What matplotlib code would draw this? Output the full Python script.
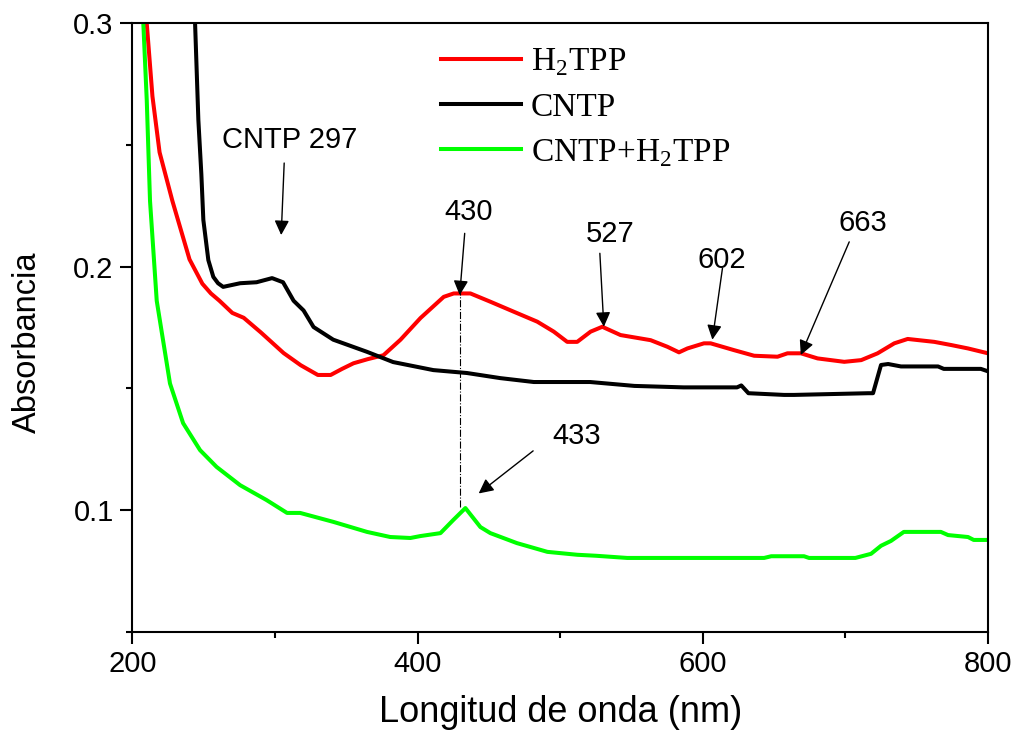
import matplotlib
matplotlib.use('Agg')
import matplotlib.pyplot as plt
from matplotlib.ticker import MultipleLocator

plt.rcParams['font.family'] = ['Liberation Sans', 'DejaVu Sans']
plt.rcParams['mathtext.fontset'] = 'custom'
plt.rcParams['mathtext.rm'] = 'Liberation Serif'

# H2TPP (red)
wl_h2tpp = [209, 210, 214, 219, 228, 240, 249, 255, 261, 270, 278, 290, 306, 318, 330, 339,
            347, 355, 365, 376, 388, 402, 418.3, 425.3, 437, 451, 467.4, 483.9, 495.5, 504.9,
            511.9, 521.3, 529.5, 542.3, 563.4, 575.1, 583.3, 589.2, 600.8, 605.5, 621.9, 636,
            652.4, 659.4, 668.8, 680.5, 699.2, 711.1, 722.6, 734.3, 743.7, 762.4, 774.2, 786, 800]
abs_h2tpp = [0.305, 0.300, 0.270, 0.247, 0.227, 0.203, 0.193, 0.189, 0.186, 0.181, 0.179, 0.173,
             0.1645, 0.1595, 0.1555, 0.1555, 0.158, 0.1603, 0.162, 0.1636, 0.170, 0.1789, 0.1876,
             0.189, 0.189, 0.1856, 0.1815, 0.1774, 0.1733, 0.1691, 0.1691, 0.1733, 0.1753, 0.1719,
             0.1698, 0.1671, 0.1648, 0.1664, 0.1685, 0.1685, 0.1657, 0.1634, 0.163, 0.1644, 0.1644,
             0.1623, 0.1609, 0.1616, 0.1644, 0.1685, 0.1703, 0.1691, 0.1678, 0.1664, 0.1644]

# CNTP (black)
wl_cntp = [243.7, 243.9, 246.2, 248.3, 249.7, 253.2, 256.7, 260, 263.6, 275.5, 287, 297.9, 305.6,
           313, 320, 327, 340.8, 364.5, 382.8, 411, 434.6, 458, 481.5, 521, 552, 586.6, 624, 627,
           632, 657, 664, 716, 719.4, 725, 730, 739, 765, 769, 795, 800]
abs_cntp = [0.305, 0.300, 0.2603, 0.238, 0.2192, 0.2027, 0.1958, 0.1932, 0.1917, 0.1932, 0.1936,
            0.1953, 0.1936, 0.186, 0.182, 0.1752, 0.170, 0.165, 0.1608, 0.1575, 0.1563, 0.1542,
            0.1526, 0.1526, 0.151, 0.1504, 0.1504, 0.1512, 0.148, 0.1473, 0.1473, 0.148, 0.148,
            0.1596, 0.160, 0.159, 0.159, 0.158, 0.158, 0.157]

# CNTP+H2TPP (green)
wl_mix = [207.3, 207.6, 210, 212.3, 217, 226.3, 235.5, 247.4, 259, 275.5, 294, 308.4, 317.6,
          341, 364.5, 380.8, 394.9, 402, 416, 425, 433.5, 444, 451, 469.6, 481.5, 491, 512, 525,
          547, 643, 648, 671, 674.5, 707, 718, 725, 732, 741, 767, 772, 786, 790, 800]
abs_mix = [0.305, 0.300, 0.2685, 0.227, 0.186, 0.152, 0.1357, 0.1246, 0.1177, 0.1102, 0.1041,
           0.0988, 0.0988, 0.0951, 0.091, 0.0889, 0.0885, 0.0893, 0.0905, 0.0959, 0.1008, 0.093,
           0.0905, 0.0864, 0.0844, 0.0828, 0.0816, 0.0812, 0.0803, 0.0803, 0.081, 0.081, 0.0803,
           0.0803, 0.082, 0.0853, 0.0873, 0.091, 0.091, 0.0897, 0.0889, 0.0877, 0.0877]

# peak labels: text, text position, arrow tail, arrow head
peak_txt = ['CNTP 297', '430', '527', '602', '663', '433']
peak_txt_xy = [(310.3, 0.252), (435.8, 0.2224), (535.3, 0.2134), (613.6, 0.2027),
               (712.5, 0.2178), (511.7, 0.1304)]
peak_tail = [(306.4, 0.2426), (433, 0.2137), (527.8, 0.2055), (613.8, 0.1994),
             (702.7, 0.2102), (481, 0.1243)]
peak_head = [(304.3, 0.213), (429.5, 0.1883), (530.6, 0.1753), (606.7, 0.170),
             (668.7, 0.1637), (442.8, 0.1068)]

fig = plt.figure(figsize=(10.16, 7.30), dpi=100)
ax = fig.add_axes([0.1304, 0.1347, 0.8420, 0.8333])

lw = 2.9
l1, = ax.plot(wl_h2tpp, abs_h2tpp, color='#ff0000', lw=lw, label=r'H$_\mathregular{2}$TPP')
l2, = ax.plot(wl_cntp, abs_cntp, color='black', lw=lw, label='CNTP')
l3, = ax.plot(wl_mix, abs_mix, color='#00ff00', lw=lw, label=r'CNTP+H$_\mathregular{2}$TPP')

# dash-dot guide between the two Soret peaks
ax.plot([430, 430], [0.1013, 0.189], color='black', lw=0.8, linestyle='-.')

for t, txy, tail, head in zip(peak_txt, peak_txt_xy, peak_tail, peak_head):
    ax.text(txy[0], txy[1], t, ha='center', va='center', fontsize=21)
    ax.annotate('', xy=head, xytext=tail,
                arrowprops=dict(arrowstyle='-|>', color='black', lw=1.0,
                                mutation_scale=22, shrinkA=0, shrinkB=0))

ax.set_xlim(200, 800)
ax.set_ylim(0.05, 0.3)
ax.xaxis.set_major_locator(MultipleLocator(200))
ax.xaxis.set_minor_locator(MultipleLocator(100))
ax.yaxis.set_major_locator(MultipleLocator(0.1))
ax.yaxis.set_minor_locator(MultipleLocator(0.05))
ax.set_yticks([0.1, 0.2, 0.3])
ax.set_yticklabels(['0.1', '0.2', '0.3'])

for s in ax.spines.values():
    s.set_linewidth(1.5)
ax.tick_params(which='major', direction='out', length=8.5, width=1.5, labelsize=21, pad=5)
ax.tick_params(which='minor', direction='out', length=4.5, width=1.5)
ax.tick_params(which='both', top=False, right=False)

ax.set_xlabel('Longitud de onda (nm)', fontsize=26, labelpad=12)
ax.set_ylabel('Absorbancia', fontsize=23.5)
ax.yaxis.set_label_coords(-0.105, 0.475)

leg = ax.legend(handles=[l1, l2, l3], loc='upper left', bbox_to_anchor=(0.333, 1.0),
                frameon=False, prop={'family': 'Liberation Serif', 'size': 24},
                handlelength=2.4, handletextpad=0.3, labelspacing=0.42, borderaxespad=0.3)

plt.savefig('out.png', dpi=100)
